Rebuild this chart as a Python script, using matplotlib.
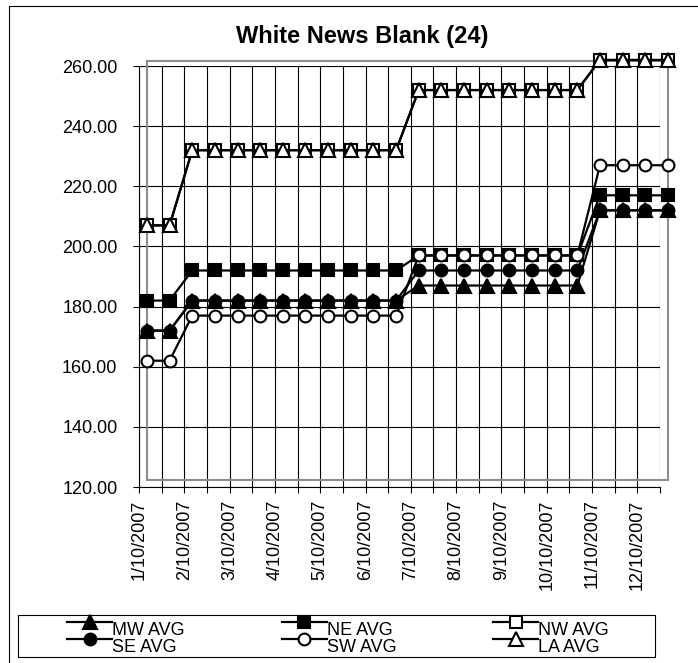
import numpy as np
import matplotlib.pyplot as plt
from matplotlib.patches import Rectangle
from matplotlib.lines import Line2D
from matplotlib.legend_handler import HandlerLine2D
from matplotlib.ticker import FormatStrFormatter

plt.rcParams['font.family'] = ['Liberation Sans', 'DejaVu Sans']

# x categories: 24 readings, labelled every other one
month_labels = ['1/10/2007', '2/10/2007', '3/10/2007', '4/10/2007', '5/10/2007', '6/10/2007',
                '7/10/2007', '8/10/2007', '9/10/2007', '10/10/2007', '11/10/2007', '12/10/2007']

mw = [172, 172, 182, 182, 182, 182, 182, 182, 182, 182, 182, 182,
      187, 187, 187, 187, 187, 187, 187, 187, 212, 212, 212, 212]
ne = [182, 182, 192, 192, 192, 192, 192, 192, 192, 192, 192, 192,
      197, 197, 197, 197, 197, 197, 197, 197, 217, 217, 217, 217]
nw = [207, 207, 232, 232, 232, 232, 232, 232, 232, 232, 232, 232,
      252, 252, 252, 252, 252, 252, 252, 252, 262, 262, 262, 262]
se = [172, 172, 182, 182, 182, 182, 182, 182, 182, 182, 182, 182,
      192, 192, 192, 192, 192, 192, 192, 192, 212, 212, 212, 212]
sw = [162, 162, 177, 177, 177, 177, 177, 177, 177, 177, 177, 177,
      197, 197, 197, 197, 197, 197, 197, 197, 227, 227, 227, 227]
la = [207, 207, 232, 232, 232, 232, 232, 232, 232, 232, 232, 232,
      252, 252, 252, 252, 252, 252, 252, 252, 262, 262, 262, 262]


class RaisedLine(HandlerLine2D):
    # legend handle sits a little above its label, like the Excel export
    def create_artists(self, legend, orig_handle, xdescent, ydescent, width, height, fontsize, trans):
        arts = super().create_artists(legend, orig_handle, xdescent, ydescent, width, height,
                                      fontsize, trans)
        for a in arts:
            a.set_ydata(np.asarray(a.get_ydata()) + 5)
        return arts


W, H = 698, 663
fig = plt.figure(figsize=(W / 100, H / 100), dpi=100)
ax = fig.add_axes([139 / W, 1 - 487 / H, 521 / W, 421 / H])
ax.patch.set_visible(False)

x = np.arange(len(mw))
styles = [(mw, '^', 'black', 'MW AVG'), (ne, 's', 'black', 'NE AVG'),
          (nw, 's', 'white', 'NW AVG'), (se, 'o', 'black', 'SE AVG'),
          (sw, 'o', 'white', 'SW AVG'), (la, '^', 'white', 'LA AVG')]
lines = {}
for vals, mk, fc, lab in styles:
    ms = 9.5 if mk == '^' else 8.5
    ln, = ax.plot(x, vals, color='black', lw=1.6, marker=mk, ms=ms, mfc=fc, mec='black',
                  mew=1.5, label=lab, clip_on=False, zorder=3)
    lines[lab] = ln

# grid sits a bit left of the points, as in the original export
off = 0.35
ax.set_xlim(-off, len(x) - 1 - off)
ax.set_ylim(120, 260)
ax.set_yticks(np.arange(120, 261, 20))
ax.yaxis.set_major_formatter(FormatStrFormatter('%.2f'))
ax.set_xticks(x - off)
ax.set_xticklabels([month_labels[i // 2] if i % 2 == 0 else '' for i in x])
ax.grid(True, color='black', lw=0.8)
ax.set_axisbelow(True)
for s in ['top', 'right']:
    ax.spines[s].set_visible(False)
for s in ['left', 'bottom']:
    ax.spines[s].set_linewidth(0.8)
ax.tick_params(axis='x', direction='out', length=4, width=0.8, pad=5, labelsize=13, labelrotation=90)
ax.tick_params(axis='y', direction='out', length=4.5, width=0.8, pad=11, labelsize=13)

# grey plot-area frame, shifted like in the source image
ax.add_patch(Rectangle((147 / W, 1 - 480 / H), 521 / W, 419 / H, transform=fig.transFigure,
                       fill=False, ec='#8c8c8c', lw=1.5, clip_on=False, zorder=1))

fig.text(362 / W, 1 - 37 / H, 'White News Blank (24)', ha='center', va='center',
         fontsize=17, fontweight='bold')

order = ['MW AVG', 'SE AVG', 'NE AVG', 'SW AVG', 'NW AVG', 'LA AVG']
fig.legend([lines[k] for k in order], order, ncol=3, loc='upper left',
           bbox_to_anchor=(67 / W, 1 - 622 / H, 542 / W, 0), mode='expand', frameon=False,
           fontsize=13, handlelength=2.5, handletextpad=0, labelspacing=0,
           borderpad=0, borderaxespad=0, handler_map={Line2D: RaisedLine()})
fig.add_artist(Rectangle((18 / W, 1 - 657 / H), 637 / W, 42 / H, transform=fig.transFigure,
                         fill=False, ec='black', lw=0.8))

# outer chart border (left and top visible)
fig.add_artist(Line2D([9 / W, 9 / W, 1], [0, 1 - 6 / H, 1 - 6 / H], transform=fig.transFigure,
                      color='black', lw=0.8))

fig.savefig('out.png', dpi=100)
